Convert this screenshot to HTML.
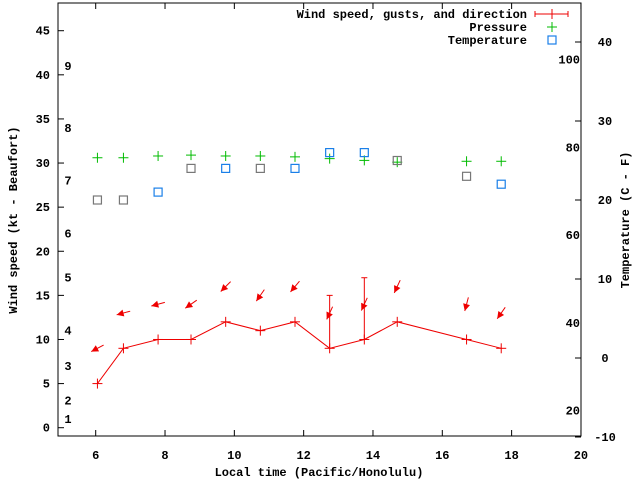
<!DOCTYPE html>
<html><head><meta charset="utf-8"><style>
body{margin:0;background:#fff}
svg text{font-family:"Liberation Mono",monospace;font-weight:bold;font-size:12px;fill:#000}
</style></head><body>
<svg id="chart" width="640" height="480"></svg>
<script>
const times=[6.05,6.8,7.8,8.75,9.75,10.75,11.75,12.75,13.75,14.7,16.7,17.7];
const wind=[5,9,10,10,12,11,12,9,10,12,10,9];
const gusts=[null,null,null,null,null,null,null,15,17,null,null,null];
const dirs=[62,75,75,55,45,35,40,25,25,25,15,35];
const pressure=[30.6,30.6,30.8,30.9,30.8,30.8,30.7,30.5,30.3,30.1,30.2,30.2];
const tempC=[20,20,21,24,24,24,24,26,26,25,23,22];
const tempColors=["#777","#777","#1a7fe8","#777","#1a7fe8","#777","#1a7fe8","#1a7fe8","#1a7fe8","#777","#777","#1a7fe8"];
const xTicks=[6,8,10,12,14,16,18,20];
const yTicks=[0,5,10,15,20,25,30,35,40,45];
const cTicks=[-10,0,10,20,30,40];
const fTicks=[20,40,60,80,100];
const beaufort=[[1,1.0],[2,3.1],[3,7.0],[4,11],[5,17],[6,22],[7,28],[8,34],[9,41]];
const L=58,R=581,T=3,B=436;
const X=v=>95.7+34.66*(v-6);
const Y=v=>427.7-8.822*v;
const YC=c=>358-7.9*c;
const YF=f=>YC((f-32)*5/9);
const svg=document.getElementById('chart');
const NS='http://www.w3.org/2000/svg';
function mk(tag,attrs,parent){const e=document.createElementNS(NS,tag);for(const k in attrs)e.setAttribute(k,attrs[k]);(parent||svg).appendChild(e);return e;}
function txt(s,x,y,anchor){const t=mk('text',{x:x,y:y,'text-anchor':anchor||'middle'});t.textContent=s;return t;}
const frame=mk('rect',{x:L,y:T,width:R-L,height:B-T,fill:'none',stroke:'#000','stroke-width':1});


xTicks.forEach(v=>{
  const x=X(v);
  mk('line',{x1:x,y1:B,x2:x,y2:B-6,stroke:'#000'});
  mk('line',{x1:x,y1:T,x2:x,y2:T+6,stroke:'#000'});
  const t=txt(String(v),x,459);
  
  
});
yTicks.forEach(v=>{
  const y=Y(v);
  mk('line',{x1:L,y1:y,x2:L+6,y2:y,stroke:'#000'});
  const t=txt(String(v),50,y+4,'end');
  
  
});
cTicks.forEach(v=>{
  const y=YC(v);
  mk('line',{x1:R,y1:y,x2:R-6,y2:y,stroke:'#000'});
  const t=txt(String(v),605,y+4);
  
  
});
fTicks.forEach(v=>{
  const t=txt(String(v),580,YF(v)+4,'end');
  
  
});
beaufort.forEach(b=>{
  const t=txt(String(b[0]),68,Y(b[1])+4);
  
  
});
let xt=txt('Local time (Pacific/Honolulu)',319,476);


let yt=txt('Wind speed (kt - Beaufort)',0,0);
yt.setAttribute('transform','translate(17,220) rotate(-90)');


let rt=txt('Temperature (C - F)',0,0);
rt.setAttribute('transform','translate(629,220) rotate(-90)');


// wind line
const pts=times.map((t,i)=>X(t)+','+Y(wind[i])).join(' ');
const wl=mk('polyline',{points:pts,fill:'none',stroke:'#e00','stroke-width':1});


function plus(x,y,c,n){const g=mk('g',{stroke:c,'stroke-width':1});mk('line',{x1:x-5,y1:y,x2:x+5,y2:y},g);mk('line',{x1:x,y1:y-5,x2:x,y2:y+5},g);}
times.forEach((t,i)=>{
  const x=X(t);
  plus(x,Y(wind[i]),'#e00','wind-point');
  if(gusts[i]!=null){
    const g=mk('g',{stroke:'#e00'});
    
    
    mk('line',{x1:x,y1:Y(wind[i]),x2:x,y2:Y(gusts[i])},g);
    mk('line',{x1:x-3,y1:Y(gusts[i]),x2:x+3,y2:Y(gusts[i])},g);
  }
  // direction arrow
  const th=dirs[i]*Math.PI/180, dx=-Math.sin(th), dy=Math.cos(th);
  const cx=x, cy=Y(wind[i]+4), h=7;
  const x1=cx-dx*h,y1=cy-dy*h,x2=cx+dx*h,y2=cy+dy*h;
  const a=mk('g',{});
  
  
  mk('line',{x1:x1,y1:y1,x2:x2,y2:y2,stroke:'#e00'},a);
  const px=-dy,py=dx;
  mk('polygon',{points:`${x2},${y2} ${x2-dx*7+px*3.5},${y2-dy*7+py*3.5} ${x2-dx*7-px*3.5},${y2-dy*7-py*3.5}`,fill:'#e00'},a);
  plus(x,Y(pressure[i]),'#0b0','pressure-point');
  const s=mk('rect',{x:x-4,y:YC(tempC[i])-4,width:8,height:8,fill:'none',stroke:tempColors[i],'stroke-width':1.2});
  
  
});
// legend
const lg=mk('g',{});


[['Wind speed, gusts, and direction',18],['Pressure',31],['Temperature',44]].forEach((e,i)=>{
  const t=txt(e[0],527,e[1],'end');
  
  
});
mk('line',{x1:535,y1:14,x2:568,y2:14,stroke:'#e00'},lg);
mk('line',{x1:535,y1:11,x2:535,y2:17,stroke:'#e00'},lg);
mk('line',{x1:568,y1:11,x2:568,y2:17,stroke:'#e00'},lg);
mk('line',{x1:552,y1:9,x2:552,y2:19,stroke:'#e00'},lg);
mk('line',{x1:547,y1:27,x2:557,y2:27,stroke:'#0b0'},lg);
mk('line',{x1:552,y1:22,x2:552,y2:32,stroke:'#0b0'},lg);
mk('rect',{x:548,y:36,width:8,height:8,fill:'none',stroke:'#1a7fe8','stroke-width':1.2},lg);
</script>
</body></html>
